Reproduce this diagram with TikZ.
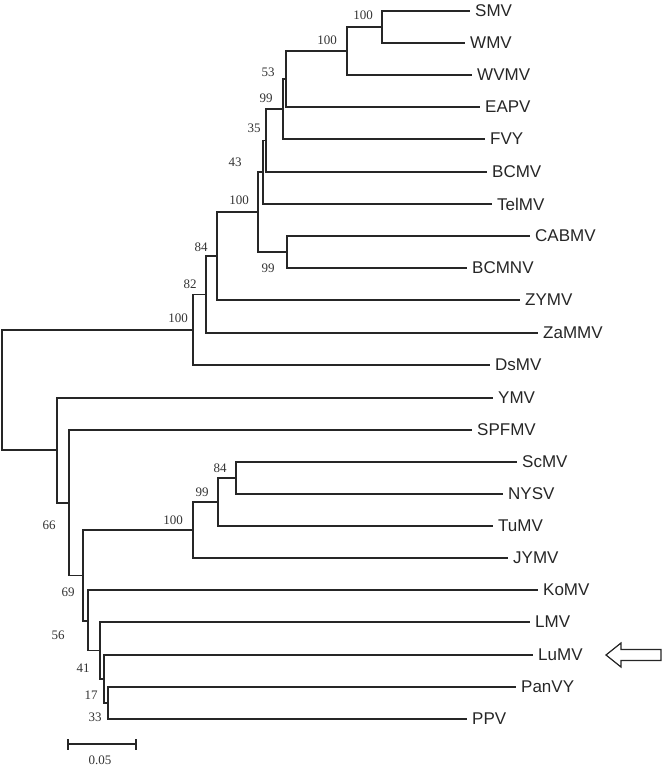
\documentclass[tikz,border=0pt]{standalone}
\usepackage{fontspec}
\setmainfont{Liberation Serif}
\newfontfamily\leaffont{Liberation Sans}
\begin{document}
\begin{tikzpicture}[x=1pt,y=-1pt,
  branch/.style={line width=1.5pt,draw=black!85},
  leaflab/.style={anchor=west,inner sep=0pt,font=\leaffont\fontsize{17}{17}\selectfont,text=black!85},
  boot/.style={inner sep=0pt,font=\fontsize{13}{13}\selectfont,text=black!80},
  pt/.style={inner sep=0pt,outer sep=0pt,minimum size=0pt}]
\useasboundingbox (0,0) rectangle (662,768);
% leaves
\foreach \n/\x/\y in {SMV/470/11,WMV/465/43,WVMV/472/75,EAPV/480/107,FVY/485/139,
  BCMV/487/172,TelMV/492/204,CABMV/530/236,BCMNV/467/268,ZYMV/520/300,ZaMMV/538/333,
  DsMV/490/365,YMV/493/398,SPFMV/472/430,ScMV/517/462,NYSV/503/494,TuMV/493/526,
  JYMV/508/558,KoMV/538/590,LMV/530/622,LuMV/533/655,PanVY/516/687,PPV/467/719}{
  \coordinate (\n) at (\x,\y);
  \node[leaflab] (\n-lab) at (\x+5,\y) {\n};
}
% internal nodes
\coordinate (n1) at (382,27);
\coordinate (n2) at (347,51);
\coordinate (n3) at (286,79);
\coordinate (n4) at (283,109);
\coordinate (n5) at (266,140.5);
\coordinate (n6) at (263,172);
\coordinate (n7) at (287,252);
\coordinate (n8) at (258,212);
\coordinate (n9) at (217,256);
\coordinate (n10) at (206,294.5);
\coordinate (n11) at (193,330);
\coordinate (m1) at (236,478);
\coordinate (m2) at (218,502);
\coordinate (m3) at (193,530);
\coordinate (p1) at (108,703);
\coordinate (p2) at (104,679);
\coordinate (p3) at (100,650.5);
\coordinate (p4) at (88,621);
\coordinate (p5) at (83,575.5);
\coordinate (p6) at (69,503);
\coordinate (p7) at (57,450);
\coordinate (root) at (2,390);
% branches
\foreach \p/\c in {n1/SMV,n1/WMV,n2/n1,n2/WVMV,n3/n2,n3/EAPV,n4/n3,n4/FVY,
  n5/n4,n5/BCMV,n6/n5,n6/TelMV,n7/CABMV,n7/BCMNV,n8/n6,n8/n7,n9/n8,n9/ZYMV,
  n10/n9,n10/ZaMMV,n11/n10,n11/DsMV,
  m1/ScMV,m1/NYSV,m2/m1,m2/TuMV,m3/m2,m3/JYMV,
  p1/PanVY,p1/PPV,p2/LuMV,p2/p1,p3/LMV,p3/p2,p4/KoMV,p4/p3,p5/m3,p5/p4,
  p6/SPFMV,p6/p5,p7/YMV,p7/p6,root/n11,root/p7}{
  \draw[branch] (\p) |- (\c);
}
% bootstrap values
\foreach \v/\x/\y [count=\i] in {100/363/15,100/327/40,53/268/72,99/266/98,35/254/128,
  43/235/162,100/239/200,99/268/268,84/201/247,82/190/284,100/178/318,
  84/220/468,99/202/492,100/173/520,66/49/525,69/68/592,56/58/635,41/83/668,
  17/91/695,33/95/717}{
  \node[boot] (b\i) at (\x,\y) {\v};
}
% scale bar
\coordinate (sb1) at (68,744);
\coordinate (sb2) at (136,744);
\draw[line width=1.3pt,draw=black!85] (sb1) -- (sb2);
\draw[line width=1.3pt,draw=black!85] ([yshift=-5.5]sb1) -- ([yshift=5.5]sb1);
\draw[line width=1.3pt,draw=black!85] ([yshift=-5.5]sb2) -- ([yshift=5.5]sb2);
\node[boot] (sblab) at (100,760) {0.05};
% arrow
\draw[line width=1.2pt,draw=black!85,line join=miter]
  (606,655) -- (621,643) -- (621,649.5) -- (661,649.5) -- (661,660.5)
  -- (621,660.5) -- (621,667) -- cycle;
\end{tikzpicture}
\end{document}
